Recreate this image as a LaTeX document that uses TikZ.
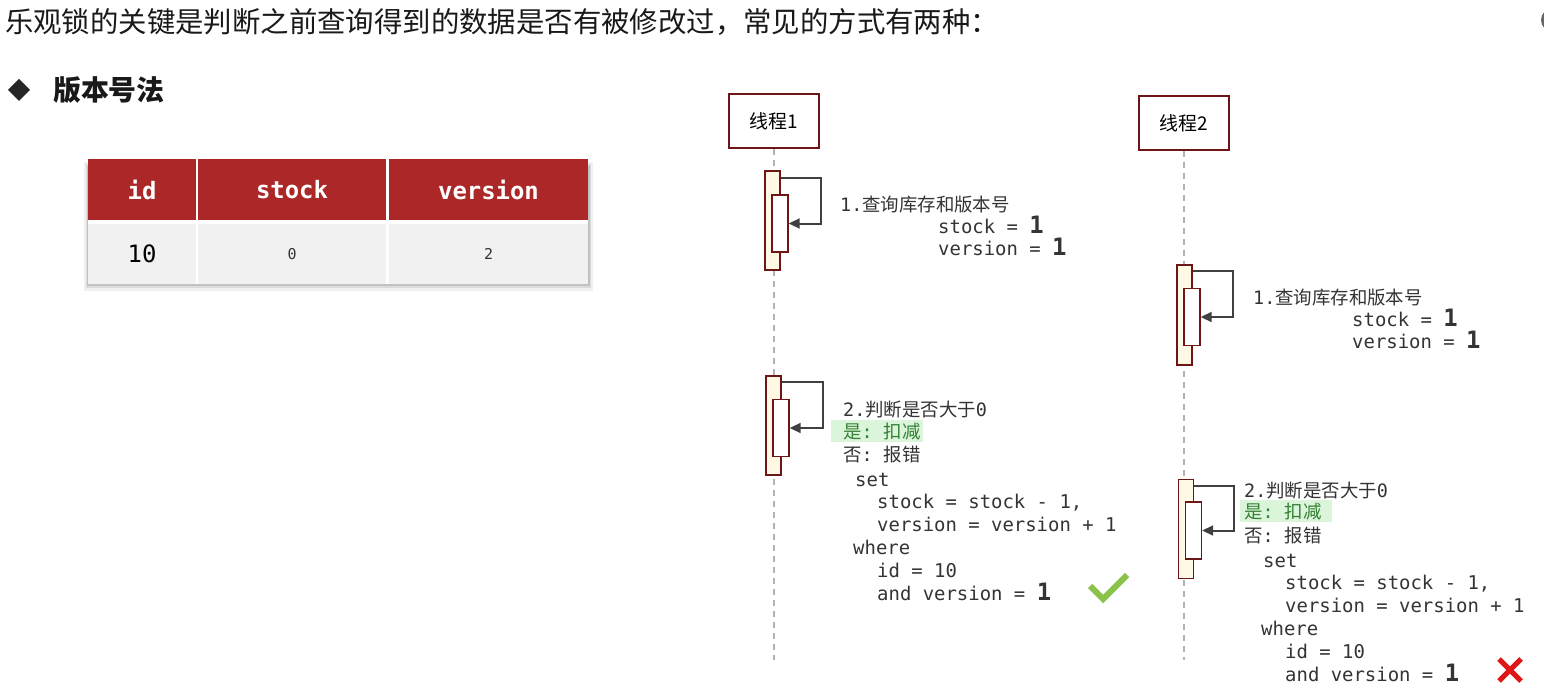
\documentclass[tikz,border=0pt]{standalone}
\usepackage{fontspec}
\setmainfont{Noto Sans CJK SC}
\setmonofont{DejaVu Sans Mono}
\usepackage{tikz}
\usetikzlibrary{arrows.meta,calc,positioning}
\definecolor{HeadRed}{RGB}{172,40,40}
\definecolor{CellGray}{RGB}{241,241,241}
\definecolor{LifeRed}{RGB}{110,22,22}
\definecolor{SoftYellow}{RGB}{255,248,228}
\definecolor{SoftGreen}{RGB}{218,245,218}
\definecolor{TextGreen}{RGB}{52,128,52}
\definecolor{CodeGray}{RGB}{52,52,52}
\definecolor{OkGreen}{RGB}{139,195,74}
\definecolor{BadRed}{RGB}{222,22,22}
\newcommand{\fs}[1]{\fontsize{#1}{#1}\selectfont}
\newcommand{\bigone}{\textbf{\fs{24}1}}
% sql lines of one thread: #1 prefix, #2 x of inner lines, #3 baseline of "set"
\newcommand{\sqlblock}[3]{%
  \node[code] (#1set) at (#2-22,#3) {set};
  \node[code] (#1stk) at (#2,#3+22.8) {stock = stock - 1,};
  \node[code] (#1ver) at (#2,#3+45.6) {version = version + 1};
  \node[code] (#1whr) at (#2-24,#3+68.4) {where};
  \node[code] (#1id) at (#2,#3+91.2) {id = 10};
  \node[code] (#1and) at (#2,#3+114) {and version = \bigone};
}

\begin{document}
\begin{tikzpicture}[x=1bp,y=-1bp,>={Triangle[length=11bp,width=10bp]},
  thread/.style={draw=LifeRed,line width=1.4bp,fill=white,minimum width=90bp,minimum height=54bp,font=\fs{19}},
  act/.style={draw=LifeRed,line width=1.4bp,fill=SoftYellow,minimum width=15bp,minimum height=99bp,inner sep=0},
  subact/.style={draw=LifeRed,line width=1.4bp,fill=white,minimum width=16bp,minimum height=57bp,inner sep=0},
  call/.style={->,draw=black!75,line width=2bp},
  life/.style={draw=black!30,line width=1.2bp,dash pattern=on 6bp off 5bp},
  head/.style={fill=HeadRed,text=white,font=\ttfamily\bfseries\fs{24},minimum height=61bp,inner sep=0},
  cell/.style={fill=CellGray,minimum height=60bp,inner sep=0,text=black!80,font=\ttfamily\fs{15}},
  note/.style={anchor=base west,inner sep=0,text=black!80,font=\fs{18.5}},
  code/.style={anchor=base west,inner sep=0,text=CodeGray,font=\ttfamily\fs{19}},
  hl/.style={fill=SoftGreen,minimum width=92bp,minimum height=22bp,inner sep=0}]
\useasboundingbox[fill=white] (0,0) rectangle (1544,685);
\begin{scope}
\clip (0,0) rectangle (1544,685);
\fill[black!60] (1553,20) circle (12);
\end{scope}

% heading
\node[anchor=base west,inner sep=0,font=\fs{28.5},text=black!90] (title) at (5,32.6) {乐观锁的关键是判断之前查询得到的数据是否有被修改过，常见的方式有两种：};
\fill[black!85] (19,79) -- (30,90) -- (19,101) -- (8,90) -- cycle;
\node[anchor=base west,inner sep=0,font=\bfseries\fs{28},text=black!90] (method) at (53,100.6) {版本号法};

% table
\fill[black!6] (84,162) rectangle (593,291);
\fill[black!14] (86,164) rectangle (591,288);
\fill[black!24] (87,166) rectangle (590,286);
\fill[white] (88,159) rectangle (588,284);
\node[head,minimum width=108bp] (hid) at (142,189.5) {id};
\node[head,minimum width=188bp] (hstock) at (292,189.5) {stock};
\node[head,minimum width=199bp] (hver) at (488.5,189.5) {version};
\node[cell,minimum width=108bp,font=\ttfamily\fs{24},text=black] (cid) at (142,254) {10};
\node[cell,minimum width=188bp] (cstock) at (292,254) {0};
\node[cell,minimum width=199bp] (cver) at (488.5,254) {\raisebox{-4bp}{2}};

% threads and lifelines
\node[thread] (t1) at (774,121) {线程1};
\node[thread] (t2) at (1184,123) {线程2};
\coordinate (t1end) at (774,660);
\coordinate (t2end) at (1184,660);
\draw[life] (t1) -- (t1end);
\draw[life] (t2) -- (t2end);

% activations
\node[act] (a1) at (772.5,220.5) {};
\node[subact] (s1) at (780,223.5) {};
\node[act] (a2) at (773.5,425.5) {};
\node[subact] (s2) at (781,428) {};
\node[act,minimum height=100bp] (a3) at (1184.5,315) {};
\node[subact] (s3) at (1192,317) {};
\node[act] (a4) at (1186,529) {};
\node[subact] (s4) at (1193.5,530.5) {};
\draw[call] ([yshift=-8bp]a1.north east) -- ++(40,0) |- (s1.east);
\draw[call] ([yshift=-7bp]a2.north east) -- ++(41,0) |- (s2.east);
\draw[call] ([yshift=-7bp]a3.north east) -- ++(40,0) |- (s3.east);
\draw[call] ([yshift=-7bp]a4.north east) -- ++(40,0) |- (s4.east);

% thread 1
\node[note] (q1) at (840,211) {{\ttfamily 1.}查询库存和版本号};
\node[code] (q1s) at (938,233) {stock = \bigone};
\node[code] (q1v) at (938,255) {version = \bigone};
\node[hl] (h1) at (877,431) {};
\node[note] (j1) at (843,416) {{\ttfamily 2.}判断是否大于{\ttfamily 0}};
\node[note,text=TextGreen] (y1) at (843,438) {是{\ttfamily: }扣减};
\node[note] (n1) at (843,461) {否{\ttfamily: }报错};
\sqlblock{p}{877}{486}
\draw[OkGreen,line width=6bp] (1090,586) -- (1103,599) -- (1127,575);

% thread 2
\node[note] (q2) at (1253,304) {{\ttfamily 1.}查询库存和版本号};
\node[code] (q2s) at (1352,326) {stock = \bigone};
\node[code] (q2v) at (1352,348) {version =  \bigone};
\node[hl] (h2) at (1286,511) {};
\node[note] (j2) at (1244,497) {{\ttfamily 2.}判断是否大于{\ttfamily 0}};
\node[note,text=TextGreen] (y2) at (1244,518) {是{\ttfamily: }扣减};
\node[note] (n2) at (1244,542) {否{\ttfamily: }报错};
\sqlblock{r}{1285}{567}
\draw[BadRed,line width=5bp] (1499,659) -- (1521,681) (1521,659) -- (1499,681);
\end{tikzpicture}
\end{document}
